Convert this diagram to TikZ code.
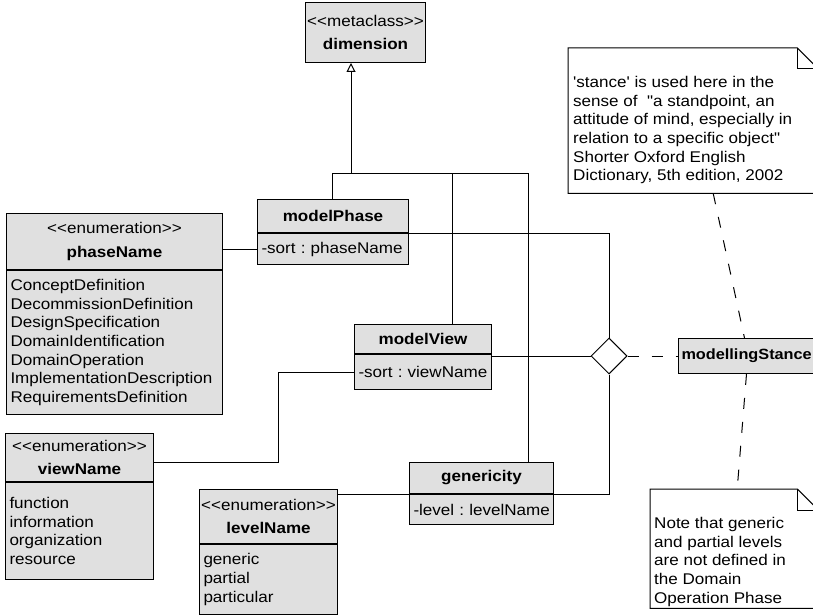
\documentclass[tikz,border=0pt]{standalone}
\usepackage{fontspec}
\usetikzlibrary{positioning}
\usetikzlibrary{shapes.geometric}
\usetikzlibrary{arrows.meta}
\newfontfamily\umlfont{Liberation Sans}[FakeStretch=1.1]
\newcommand{\Stereo}[1]{<<#1>>}
\newcommand{\Cname}[1]{\textbf{#1}}
\newcommand{\Attr}[1]{\mbox{#1}}
\newcommand{\NoteFrame}[1]{%
  \draw[line width=1pt] (#1.north west) -- ([xshift=-21pt]#1.north east) -- ([yshift=-21pt]#1.north east) -- (#1.south east) -- (#1.south west) -- cycle;
  \draw[line width=1pt] ([xshift=-21pt]#1.north east) |- ([yshift=-21pt]#1.north east);}
\tikzstyle{clsHead} = [draw=black, fill=black!12, line width=1pt, inner sep=0pt, align=center, anchor=north west, font=\umlfont\frenchspacing\fontsize{15.5}{18.7}\selectfont]
\tikzstyle{clsBody} = [draw=black, fill=black!12, line width=1pt, inner xsep=4pt, inner ysep=0pt, align=left, font=\umlfont\frenchspacing\fontsize{15.5}{18.7}\selectfont]
\tikzstyle{noteBox} = [fill=white, inner sep=0pt, anchor=north west]
\tikzstyle{noteText} = [inner sep=0pt, align=left, font=\umlfont\frenchspacing\fontsize{15.5}{18.7}\selectfont]
\tikzstyle{assoc} = [line width=1pt]
\tikzstyle{anchorLine} = [line width=1pt, dash pattern=on 11pt off 13pt]
\tikzstyle{inherit} = [line width=1pt, -{Triangle[open, length=9pt, width=9pt]}]

\begin{document}
\begin{tikzpicture}[x=1pt, y=-1pt]
\useasboundingbox (0,0) rectangle (813,615);
\clip (0,0) rectangle (813,615);

% Define nodes
\node[clsHead, minimum width=120pt, minimum height=60pt] (dim) at (305,2) {\Stereo{metaclass}\\[5pt]\Cname{dimension}};

\node[clsHead, minimum width=151pt, minimum height=33pt] (mph) at (257,199) {\Cname{modelPhase}};
\node[clsBody, text width=143pt, minimum height=31pt, below=0pt of mph] (mpb) {\Attr{-sort : phaseName}};

\node[clsHead, minimum width=137pt, minimum height=29pt] (mvh) at (354,324) {\Cname{modelView}};
\node[clsBody, text width=129pt, minimum height=35pt, below=0pt of mvh] (mvb) {\Attr{-sort : viewName}};

\node[clsHead, minimum width=144pt, minimum height=31pt] (genh) at (409,462) {\Cname{genericity}};
\node[clsBody, text width=136pt, minimum height=30pt, below=0pt of genh] (genb) {\Attr{-level : levelName}};

\node[clsHead, minimum width=216pt, minimum height=56pt] (pnh) at (6,213) {\Stereo{enumeration}\\[5pt]\Cname{phaseName}};
\node[clsBody, text width=208pt, minimum height=144pt, below=0pt of pnh] (pnb) {ConceptDefinition\\DecommissionDefinition\\DesignSpecification\\DomainIdentification\\DomainOperation\\ImplementationDescription\\RequirementsDefinition};

\node[clsHead, minimum width=148pt, minimum height=48pt] (vnh) at (5,433) {\Stereo{enumeration}\\[5pt]\Cname{viewName}};
\node[clsBody, text width=140pt, minimum height=97pt, below=0pt of vnh] (vnb) {function\\information\\organization\\resource};

\node[clsHead, minimum width=138pt, minimum height=54pt] (lnh) at (199,489) {\Stereo{enumeration}\\[5pt]\Cname{levelName}};
\node[clsBody, text width=130pt, minimum height=70pt, below=0pt of lnh] (lnb) {generic\\partial\\particular};

\node[diamond, draw, fill=white, line width=1pt, aspect=1, minimum size=36pt, inner sep=0pt] (dia) at (609,356) {};
\node[clsBody, text width=142pt, minimum height=35pt, anchor=north west, inner xsep=3pt, font=\umlfont\fontsize{14.8}{18.7}\selectfont] (ms) at (678,338) {\Cname{modellingStance}};

\node[noteBox, minimum width=250pt, minimum height=145pt] (n1) at (568,48) {};
\NoteFrame{n1}
\node[noteText, below right=28pt and 5pt of n1.north west] (n1t) {'stance' is used here in the\\sense of \ "a standpoint, an\\attitude of mind, especially in\\relation to a specific object"\\Shorter Oxford English\\Dictionary, 5th edition, 2002};

\node[noteBox, minimum width=168pt, minimum height=119pt] (n2) at (650,489) {};
\NoteFrame{n2}
\node[noteText, below right=28pt and 4pt of n2.north west] (n2t) {Note that generic\\and partial levels\\are not defined in\\the Domain\\Operation Phase};

% Edges
\coordinate (gTop) at (351,173);
\coordinate (barL) at (332,173);
\coordinate (barM) at (452,173);
\coordinate (barR) at (528,173);
\coordinate (vBend) at (278,462);
\draw[inherit] (gTop) -- (dim.south -| gTop);
\draw[assoc] (mph.north -| barL) -- (barL) -- (barR) -- (barR |- genh.north);
\draw[assoc] (barM) -- (barM |- mvh.north);

\draw[assoc] (pnh.east |- mpb.west) -- (mpb.west);
\draw[assoc] (vnh.east |- vBend) -- (vBend) |- (mvb.west);
\draw[assoc] (lnh.east |- genb.north west) -- (genb.north west);

\draw[assoc] (mph.south east) -| (dia.north);
\draw[assoc] (mvb.east |- dia.west) -- (dia.west);
\draw[assoc] (genh.south east) -| (dia.south);

\draw[anchorLine] (dia.east) -- (ms.west);
\draw[anchorLine] ([xshift=20pt]n1.south) -- ([xshift=-8pt]ms.north);
\draw[anchorLine] ([xshift=-6pt]ms.south) -- ([xshift=3pt]n2.north);
\end{tikzpicture}
\end{document}
